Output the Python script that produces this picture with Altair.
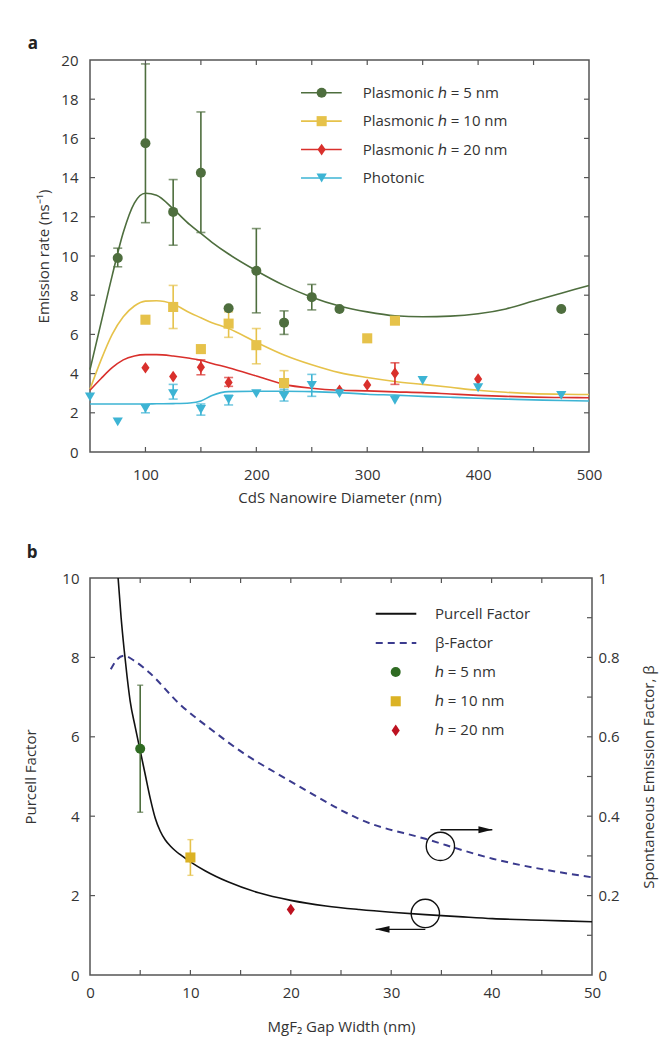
import altair as alt
import pandas as pd

FONT = "Open Sans"
TXT = "#333333"

# ---------------- Panel a data ----------------
A_KEYS = ["h5", "h10", "h20", "ph"]
A_LABELS = ["Plasmonic ℎ = 5 nm", "Plasmonic ℎ = 10 nm", "Plasmonic ℎ = 20 nm", "Photonic"]
DIAMOND = "M0,-1.15L0.8,0L0,1.15L-0.8,0Z"
A_SHAPES = ["circle", "square", DIAMOND, "triangle-down"]
A_POINT_COLORS = ["#2f6b22", "#dbb224", "#bd1220", "#23a3c9"]
A_LINE_COLORS = ["#4e6e3e", "#e6c24a", "#d9302c", "#3db4d4"]

g_d = [75, 100, 125, 150, 175, 200, 225, 250, 275, 475]
g_r = [9.9, 15.75, 12.25, 14.25, 7.33, 9.25, 6.6, 7.9, 7.3, 7.3]
y_d = [100, 125, 150, 175, 200, 225, 300, 325]
y_r = [6.75, 7.4, 5.25, 6.55, 5.45, 3.52, 5.8, 6.7]
r_d = [100, 125, 150, 175, 275, 300, 325, 400]
r_r = [4.3, 3.85, 4.33, 3.55, 3.15, 3.42, 4.02, 3.72]
c_d = [50, 75, 100, 125, 150, 175, 200, 225, 250, 275, 325, 350, 400, 475]
c_r = [2.81, 1.54, 2.22, 2.98, 2.17, 2.68, 2.98, 2.84, 3.4, 2.98, 2.64, 3.65, 3.28, 2.89]

g_e_d = [75, 100, 125, 150, 200, 225, 250]
g_lo = [9.45, 11.7, 10.55, 11.2, 7.1, 6.0, 7.25]
g_hi = [10.4, 19.8, 13.9, 17.35, 11.4, 7.2, 8.55]
y_e_d = [125, 175, 200, 225]
y_lo = [6.3, 5.85, 4.5, 3.0]
y_hi = [8.5, 7.15, 6.3, 4.15]
r_e_d = [150, 175, 325]
r_lo = [3.94, 3.35, 3.45]
r_hi = [4.7, 3.8, 4.55]
c_e_d = [100, 125, 150, 175, 225, 250]
c_lo = [2.0, 2.7, 1.88, 2.4, 2.6, 2.84]
c_hi = [2.4, 3.45, 2.45, 2.9, 3.2, 3.96]

curve_d = [50, 60, 70, 80, 90, 100, 110, 125, 140, 150, 160, 175, 200, 225, 250,
           275, 300, 325, 350, 375, 400, 425, 450, 475, 500]
curve_g = [4.2, 6.6, 9.0, 11.2, 12.7, 13.2, 13.1, 12.4, 11.6, 11.15, 10.7, 10.1, 9.25, 8.5, 7.9,
           7.45, 7.15, 6.95, 6.9, 6.93, 7.05, 7.3, 7.7, 8.1, 8.5]
curve_y = [3.2, 4.7, 6.0, 6.9, 7.45, 7.7, 7.72, 7.55, 7.1, 6.85, 6.6, 6.3, 5.6, 4.95, 4.45,
           4.05, 3.8, 3.6, 3.45, 3.3, 3.15, 3.05, 2.98, 2.95, 2.93]
curve_r = [3.15, 3.75, 4.3, 4.7, 4.9, 4.97, 4.97, 4.9, 4.78, 4.68, 4.52, 4.3, 3.88, 3.45, 3.25,
           3.15, 3.12, 3.07, 3.03, 2.96, 2.89, 2.84, 2.8, 2.78, 2.77]
curve_c = [2.45, 2.45, 2.45, 2.45, 2.45, 2.45, 2.46, 2.47, 2.5, 2.6, 2.88, 3.08, 3.1, 3.1, 3.08,
           3.03, 2.95, 2.9, 2.84, 2.79, 2.74, 2.7, 2.66, 2.63, 2.6]

a_xlabels = [100, 200, 300, 400, 500]
a_xticks = [100, 150, 200, 250, 300, 350, 400, 450]
a_ylabels = [0, 2, 4, 6, 8, 10, 12, 14, 16, 18, 20]
a_yticks = [2, 4, 6, 8, 10, 12, 14, 16, 18]

# ---------------- Panel b data ----------------
gap_p = [2.8, 3.1, 3.4, 3.7, 4.0, 4.5, 5.0, 5.5, 6.0, 6.5, 7.0, 7.5, 8.0, 8.5, 9.0, 10,
         11.5, 13.8, 16.8, 20, 23.5, 26.8, 30, 33.4, 36.7, 40.1, 45, 50]
purcell = [10, 9.0, 8.2, 7.5, 6.9, 6.25, 5.65, 5.05, 4.45, 3.95, 3.62, 3.4, 3.25, 3.13, 3.03,
           2.85, 2.62, 2.34, 2.07, 1.88, 1.74, 1.65, 1.58, 1.52, 1.47, 1.42, 1.38, 1.34]
gap_b = [2.07, 2.7, 3.4, 4.5, 5.9, 8.9, 12.2, 15.5, 18.8, 22.2, 24.8, 26.8, 33.4, 40.1, 50]
beta = [0.77, 0.795, 0.804, 0.79, 0.762, 0.683, 0.616, 0.555, 0.505, 0.455, 0.418, 0.393,
        0.343, 0.293, 0.246]

B_KEYS = ["h5", "h10", "h20"]
b_gap = [5, 10, 20]
b_pf = [5.7, 2.96, 1.65]
b_e_gap = [5, 10]
b_lo = [4.1, 2.51]
b_hi = [7.3, 3.41]
B_ERR_COLORS = ["#5a8a45", "#e0bd3a"]

b_xlabels = [0, 10, 20, 30, 40, 50]
b_xticks = [5, 10, 15, 20, 25, 30, 35, 40, 45]
b_ylabels = [0, 2, 4, 6, 8, 10]
b_yticks = [2, 4, 6, 8]
b_rlabels = [0, 0.2, 0.4, 0.6, 0.8, 1]
b_rticks = [0.1, 0.2, 0.3, 0.4, 0.5, 0.6, 0.7, 0.8, 0.9]

# annotation anchors (data units of panel b): circle centre, arrow start/end
ann_circle_x = [33.4, 34.9]
ann_circle_y = [1.55, 3.24]
ann_arrow_x = [33.4, 34.9]
ann_arrow_x2 = [28.45, 40.07]
ann_arrow_y = [1.15, 3.66]
HEAD_LEFT = "M0,0L1.6,-0.4L1.6,0.4Z"
HEAD_RIGHT = "M0,0L-1.6,-0.4L-1.6,0.4Z"

B_LABELS = ["Purcell Factor", "β-Factor", "ℎ = 5 nm", "ℎ = 10 nm", "ℎ = 20 nm"]
PANEL_LETTERS = ["a", "b"]

# ---------------- layout constants ----------------
WA, HA = 499, 392
WB, HB = 502, 397
TICK = 5

# ---------------- build tables ----------------
pts_a = pd.concat([
    pd.DataFrame({"d": g_d, "r": g_r, "s": "h5"}),
    pd.DataFrame({"d": y_d, "r": y_r, "s": "h10"}),
    pd.DataFrame({"d": r_d, "r": r_r, "s": "h20"}),
    pd.DataFrame({"d": c_d, "r": c_r, "s": "ph"}),
])
err_a = pd.concat([
    pd.DataFrame({"d": g_e_d, "lo": g_lo, "hi": g_hi, "s": "h5"}),
    pd.DataFrame({"d": y_e_d, "lo": y_lo, "hi": y_hi, "s": "h10"}),
    pd.DataFrame({"d": r_e_d, "lo": r_lo, "hi": r_hi, "s": "h20"}),
    pd.DataFrame({"d": c_e_d, "lo": c_lo, "hi": c_hi, "s": "ph"}),
])
caps_a = pd.concat([
    err_a[["d", "lo", "s"]].rename(columns={"lo": "v"}),
    err_a[["d", "hi", "s"]].rename(columns={"hi": "v"}),
])
curves_a = pd.concat([
    pd.DataFrame({"d": curve_d, "r": curve_g, "s": "h5"}),
    pd.DataFrame({"d": curve_d, "r": curve_y, "s": "h10"}),
    pd.DataFrame({"d": curve_d, "r": curve_r, "s": "h20"}),
    pd.DataFrame({"d": curve_d, "r": curve_c, "s": "ph"}),
])

xsa = alt.Scale(domain=[50, 500], nice=False, zero=False)
ysa = alt.Scale(domain=[0, 20], nice=False)
color_pts = alt.Scale(domain=A_KEYS, range=A_POINT_COLORS)
color_line = alt.Scale(domain=A_KEYS, range=A_LINE_COLORS)
shape_sc = alt.Scale(domain=A_KEYS, range=A_SHAPES)
size_sc = alt.Scale(domain=A_KEYS, range=[100, 105, 110, 125])

AX_COMMON = dict(labelOverlap=False, labelFlush=False)
ax_a_x = alt.Axis(values=a_xlabels, title="CdS Nanowire Diameter (nm)", labelPadding=15,
                  titlePadding=8, **AX_COMMON)
ax_a_y = alt.Axis(values=a_ylabels, title="Emission rate (ns⁻¹)", labelPadding=12,
                  titlePadding=9, **AX_COMMON)


def XA(field):
    return alt.X(field, scale=xsa, axis=ax_a_x)


def YA(field):
    return alt.Y(field, scale=ysa, axis=ax_a_y)


lines_a = alt.Chart(curves_a).mark_line(strokeWidth=1.6, interpolate="monotone").encode(
    x=XA("d:Q"), y=YA("r:Q"),
    stroke=alt.Stroke("s:N", scale=color_line, legend=None),
    detail="s:N",
)
err_rules_a = alt.Chart(err_a).mark_rule(strokeWidth=1.6).encode(
    x=XA("d:Q"), y=YA("lo:Q"), y2="hi:Q",
    stroke=alt.Stroke("s:N", scale=color_line, legend=None),
)
err_caps_a = alt.Chart(caps_a).mark_tick(orient="horizontal", size=9, thickness=1.6).encode(
    x=XA("d:Q"), y=YA("v:Q"),
    color=alt.Color("s:N", scale=color_line, legend=None),
)
points_a = alt.Chart(pts_a).mark_point(filled=True, opacity=1).encode(
    x=XA("d:Q"), y=YA("r:Q"),
    color=alt.Color("s:N", scale=color_pts, legend=None),
    shape=alt.Shape("s:N", scale=shape_sc, legend=None),
    size=alt.Size("s:N", scale=size_sc, legend=None),
)


def xticks(vals, xenc, h, top):
    df = pd.DataFrame({"t": vals})
    if top:
        yv, y2v = 0, TICK
    else:
        yv, y2v = h, h - TICK
    return alt.Chart(df).mark_rule(color="#555555", strokeWidth=1.2).encode(
        x=xenc("t:Q"), y=alt.value(yv), y2=alt.value(y2v))


def yticks(vals, yenc, w, right):
    df = pd.DataFrame({"t": vals})
    if right:
        xv, x2v = w, w - TICK
    else:
        xv, x2v = 0, TICK
    return alt.Chart(df).mark_rule(color="#555555", strokeWidth=1.2).encode(
        y=yenc("t:Q"), x=alt.value(xv), x2=alt.value(x2v))


# legend panel a (data units of panel a)
LEG_A_X1, LEG_A_X2, LEG_A_XM, LEG_A_XT = 240.3, 277.0, 258.9, 295.9
LEG_A_Y0, LEG_A_DY = 18.33, 1.45
leg_a = pd.DataFrame({"s": A_KEYS, "lab": A_LABELS, "i": list(range(4))})
leg_a_base = alt.Chart(leg_a).transform_calculate(
    ly=f"{LEG_A_Y0} - datum.i * {LEG_A_DY}",
    lx1=f"{LEG_A_X1}", lx2=f"{LEG_A_X2}", lxm=f"{LEG_A_XM}", lxt=f"{LEG_A_XT}",
)
leg_a_rules = leg_a_base.mark_rule(strokeWidth=1.6).encode(
    x=XA("lx1:Q"), x2="lx2:Q", y=YA("ly:Q"),
    stroke=alt.Stroke("s:N", scale=color_line, legend=None),
)
leg_a_pts = leg_a_base.mark_point(filled=True, opacity=1).encode(
    x=XA("lxm:Q"), y=YA("ly:Q"),
    color=alt.Color("s:N", scale=color_pts, legend=None),
    shape=alt.Shape("s:N", scale=shape_sc, legend=None),
    size=alt.Size("s:N", scale=size_sc, legend=None),
)
leg_a_txt = leg_a_base.mark_text(align="left", baseline="middle", fontSize=15, font=FONT,
                                 color=TXT).encode(
    x=XA("lxt:Q"), y=YA("ly:Q"), text="lab:N",
)

letter_a = alt.Chart(pd.DataFrame({"t": [PANEL_LETTERS[0]]})).mark_text(
    fontSize=17, fontWeight="bold", font=FONT, color="#222222", align="center", baseline="middle"
).encode(x=alt.value(-57), y=alt.value(-16), text="t:N")

panel_a = alt.layer(
    lines_a, err_rules_a, err_caps_a, points_a,
    xticks(a_xticks, XA, HA, False), xticks(a_xticks, XA, HA, True),
    yticks(a_yticks, YA, WA, False), yticks(a_yticks, YA, WA, True),
    leg_a_rules, leg_a_pts, leg_a_txt, letter_a,
).properties(width=WA, height=HA)

# ---------------- Panel b ----------------
xsb = alt.Scale(domain=[0, 50], nice=False, zero=False)
ysb = alt.Scale(domain=[0, 10], nice=False)
ysr = alt.Scale(domain=[0, 1], nice=False)
color_b = alt.Scale(domain=B_KEYS, range=A_POINT_COLORS[:3])
shape_b = alt.Scale(domain=B_KEYS, range=A_SHAPES[:3])
size_b = alt.Scale(domain=B_KEYS, range=[100, 105, 110])
ecol_b = alt.Scale(domain=B_KEYS[:2], range=B_ERR_COLORS)

ax_b_x = alt.Axis(values=b_xlabels, title="MgF₂ Gap Width (nm)", labelPadding=10,
                  titlePadding=19, **AX_COMMON)
ax_b_y = alt.Axis(values=b_ylabels, title="Purcell Factor", labelPadding=11, titlePadding=23,
                  **AX_COMMON)
ax_b_r = alt.Axis(values=b_rlabels, orient="right", title="Spontaneous Emission Factor, β",
                  labelPadding=6, titlePadding=37, titleAngle=270, format="~g", **AX_COMMON)


def XB(field):
    return alt.X(field, scale=xsb, axis=ax_b_x)


def YB(field):
    return alt.Y(field, scale=ysb, axis=ax_b_y)


def YR(field):
    return alt.Y(field, scale=ysr, axis=ax_b_r)


purcell_line = alt.Chart(pd.DataFrame({"g": gap_p, "p": purcell})).mark_line(
    color="#111111", strokeWidth=1.6, interpolate="monotone").encode(
    x=XB("g:Q"), y=YB("p:Q"),
)
err_b = pd.DataFrame({"g": b_e_gap, "lo": b_lo, "hi": b_hi, "s": B_KEYS[:2]})
caps_b = pd.concat([
    err_b[["g", "lo", "s"]].rename(columns={"lo": "v"}),
    err_b[["g", "hi", "s"]].rename(columns={"hi": "v"}),
])
err_rules_b = alt.Chart(err_b).mark_rule(strokeWidth=1.6).encode(
    x=XB("g:Q"), y=YB("lo:Q"), y2="hi:Q",
    stroke=alt.Stroke("s:N", scale=ecol_b, legend=None),
)
err_caps_b = alt.Chart(caps_b).mark_tick(orient="horizontal", size=6, thickness=1.4).encode(
    x=XB("g:Q"), y=YB("v:Q"),
    color=alt.Color("s:N", scale=ecol_b, legend=None),
)
points_b = alt.Chart(pd.DataFrame({"g": b_gap, "p": b_pf, "s": B_KEYS})).mark_point(
    filled=True, opacity=1).encode(
    x=XB("g:Q"), y=YB("p:Q"),
    fill=alt.Fill("s:N", scale=color_b, legend=None),
    shape=alt.Shape("s:N", scale=shape_b, legend=None),
    size=alt.Size("s:N", scale=size_b, legend=None),
)

ann = pd.DataFrame({"cx": ann_circle_x, "cy": ann_circle_y, "ax": ann_arrow_x,
                    "ax2": ann_arrow_x2, "ay": ann_arrow_y, "i": [0, 1]})
ann_circles = alt.Chart(ann).mark_point(shape="circle", filled=False, size=800, color="#111111",
                                        strokeWidth=1.4, opacity=1).encode(
    x=XB("cx:Q"), y=YB("cy:Q"))
ann_arrows = alt.Chart(ann).mark_rule(color="#111111", strokeWidth=1.4).encode(
    x=XB("ax:Q"), x2="ax2:Q", y=YB("ay:Q"))
ann_head_l = alt.Chart(ann).transform_filter("datum.i == 0").mark_point(
    shape=HEAD_LEFT, filled=True, size=300, color="#111111", opacity=1).encode(
    x=XB("ax2:Q"), y=YB("ay:Q"))
ann_head_r = alt.Chart(ann).transform_filter("datum.i == 1").mark_point(
    shape=HEAD_RIGHT, filled=True, size=300, color="#111111", opacity=1).encode(
    x=XB("ax2:Q"), y=YB("ay:Q"))

# legend panel b (data units of panel b)
LEG_B_X1, LEG_B_X2, LEG_B_XM, LEG_B_XT = 28.46, 32.5, 30.45, 34.36
LEG_B_Y0, LEG_B_DY = 9.10, 0.735
leg_b = pd.DataFrame({"lab": B_LABELS, "i": list(range(5)),
                      "s": ["purcell", "beta"] + B_KEYS})
leg_b_base = alt.Chart(leg_b).transform_calculate(
    ly=f"{LEG_B_Y0} - datum.i * {LEG_B_DY}",
    lx1=f"{LEG_B_X1}", lx2=f"{LEG_B_X2}", lxm=f"{LEG_B_XM}", lxt=f"{LEG_B_XT}",
)
leg_b_solid = leg_b_base.transform_filter("datum.i == 0").mark_rule(
    color="#111111", strokeWidth=1.8).encode(
    x=XB("lx1:Q"), x2="lx2:Q", y=YB("ly:Q"))
leg_b_dash = leg_b_base.transform_filter("datum.i == 1").mark_rule(
    color="#3b3b8e", strokeWidth=2, strokeDash=[7, 5]).encode(
    x=XB("lx1:Q"), x2="lx2:Q", y=YB("ly:Q"))
leg_b_pts = leg_b_base.transform_filter("datum.i >= 2").mark_point(filled=True, opacity=1).encode(
    x=XB("lxm:Q"), y=YB("ly:Q"),
    fill=alt.Fill("s:N", scale=color_b, legend=None),
    shape=alt.Shape("s:N", scale=shape_b, legend=None),
    size=alt.Size("s:N", scale=size_b, legend=None),
)
leg_b_txt = leg_b_base.mark_text(align="left", baseline="middle", fontSize=15, font=FONT,
                                 color=TXT).encode(
    x=XB("lxt:Q"), y=YB("ly:Q"), text="lab:N",
)
letter_b = alt.Chart(pd.DataFrame({"t": [PANEL_LETTERS[1]]})).mark_text(
    fontSize=17, fontWeight="bold", font=FONT, color="#222222", align="center", baseline="middle"
).encode(x=alt.value(-58), y=alt.value(-25), text="t:N")

left_b = alt.layer(
    purcell_line, err_rules_b, err_caps_b, points_b,
    xticks(b_xticks, XB, HB, False), xticks(b_xticks, XB, HB, True),
    yticks(b_yticks, YB, WB, False),
    ann_circles, ann_arrows, ann_head_l, ann_head_r,
    leg_b_solid, leg_b_dash, leg_b_pts, leg_b_txt, letter_b,
)
beta_line = alt.Chart(pd.DataFrame({"g": gap_b, "b": beta})).mark_line(
    color="#3b3b8e", strokeWidth=2, strokeDash=[7, 5], interpolate="monotone").encode(
    x=XB("g:Q"), y=YR("b:Q"),
)
right_b = alt.layer(beta_line, yticks(b_rticks, YR, WB, True))

panel_b = alt.layer(left_b, right_b).resolve_scale(y="independent").properties(
    width=WB, height=HB)

chart = alt.vconcat(panel_a, panel_b, spacing=126, bounds="flush").properties(
    padding={"left": 15, "top": 26, "right": 3, "bottom": 5}
).configure_view(
    stroke="#555555", strokeWidth=1.5
).configure_axis(
    labelFont=FONT, titleFont=FONT, labelFontSize=15, titleFontSize=15,
    labelColor=TXT, titleColor=TXT, titleFontWeight="normal",
    grid=False, domain=False, ticks=False, labelOverlap=False,
).configure_text(font=FONT)

chart.save("out.html", embed_options={"renderer": "svg", "actions": False})
